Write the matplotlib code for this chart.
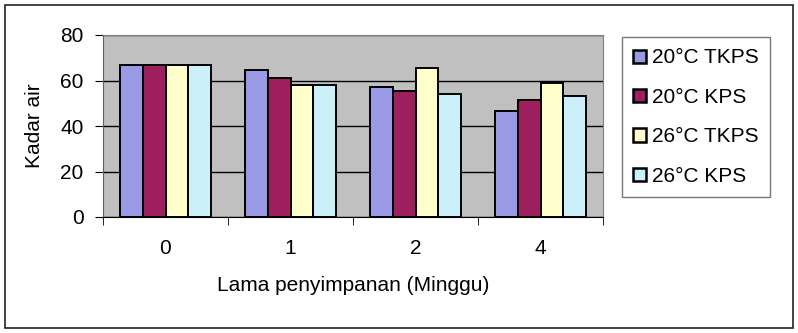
import numpy as np
import matplotlib.pyplot as plt
from matplotlib.patches import Rectangle

# data
weeks = ['0', '1', '2', '4']
series = ['20°C TKPS', '20°C KPS', '26°C TKPS', '26°C KPS']
t20_tkps = [67, 64.6, 57, 46.7]
t20_kps = [67, 61, 55.4, 51.4]
t26_tkps = [67, 58, 65.6, 58.8]
t26_kps = [67, 58, 54.2, 53.3]
colors = ['#9999E6', '#9E1F5E', '#FFFFCC', '#CCF0FA']

plt.rcParams['font.family'] = ['Liberation Sans', 'DejaVu Sans']
fs = 15

fig = plt.figure(figsize=(7.98, 3.33), dpi=100)
# outer frame
fig.patches.append(Rectangle((5/798, 5/333), 788/798, 323/333, transform=fig.transFigure,
                             fill=False, edgecolor='#222222', linewidth=1.2))

ax = fig.add_axes([103/798, (333-217)/333, 500/798, 182/333])
ax.set_facecolor('#C0C0C0')

x = np.arange(len(weeks))
w = 0.183
allvals = [t20_tkps, t20_kps, t26_tkps, t26_kps]
for i, vals in enumerate(allvals):
    ax.bar(x + (i - 1.5)*w, vals, w, color=colors[i], edgecolor='black',
           linewidth=1.4, label=series[i], zorder=3)

ax.set_ylim(0, 80)
ax.set_xlim(-0.5, 3.5)
ax.set_yticks([0, 20, 40, 60, 80])
ax.yaxis.grid(True, color='black', linewidth=1, zorder=1)
ax.set_axisbelow(True)
ax.set_xticks(x)
ax.set_xticklabels(weeks)
ax.set_xticks(np.arange(-0.5, 4, 1), minor=True)
ax.tick_params(axis='x', which='major', length=0, pad=16, labelsize=fs)
ax.tick_params(axis='x', which='minor', length=6, direction='out', color='black')
ax.tick_params(axis='y', length=6, direction='out', labelsize=fs, pad=8)

for s in ['top', 'right']:
    ax.spines[s].set_color('#808080')
ax.spines['left'].set_color('#606060')
ax.spines['bottom'].set_color('black')

ax.set_ylabel('Kadar air', fontsize=fs, labelpad=12)
ax.set_xlabel('Lama penyimpanan (Minggu)', fontsize=fs, labelpad=13)

leg = ax.legend(loc='upper left', bbox_to_anchor=(622/798, (333-37)/333),
                bbox_transform=fig.transFigure, frameon=True, fancybox=False,
                fontsize=fs, handlelength=0.6, handleheight=0.6, handletextpad=0.3,
                labelspacing=0.98, borderpad=0.55, borderaxespad=0)
leg.get_frame().set_edgecolor('#555555')
leg.get_frame().set_linewidth(1)
for h in leg.legend_handles:
    h.set_linewidth(1.8)

fig.savefig('out.png', dpi=100)
